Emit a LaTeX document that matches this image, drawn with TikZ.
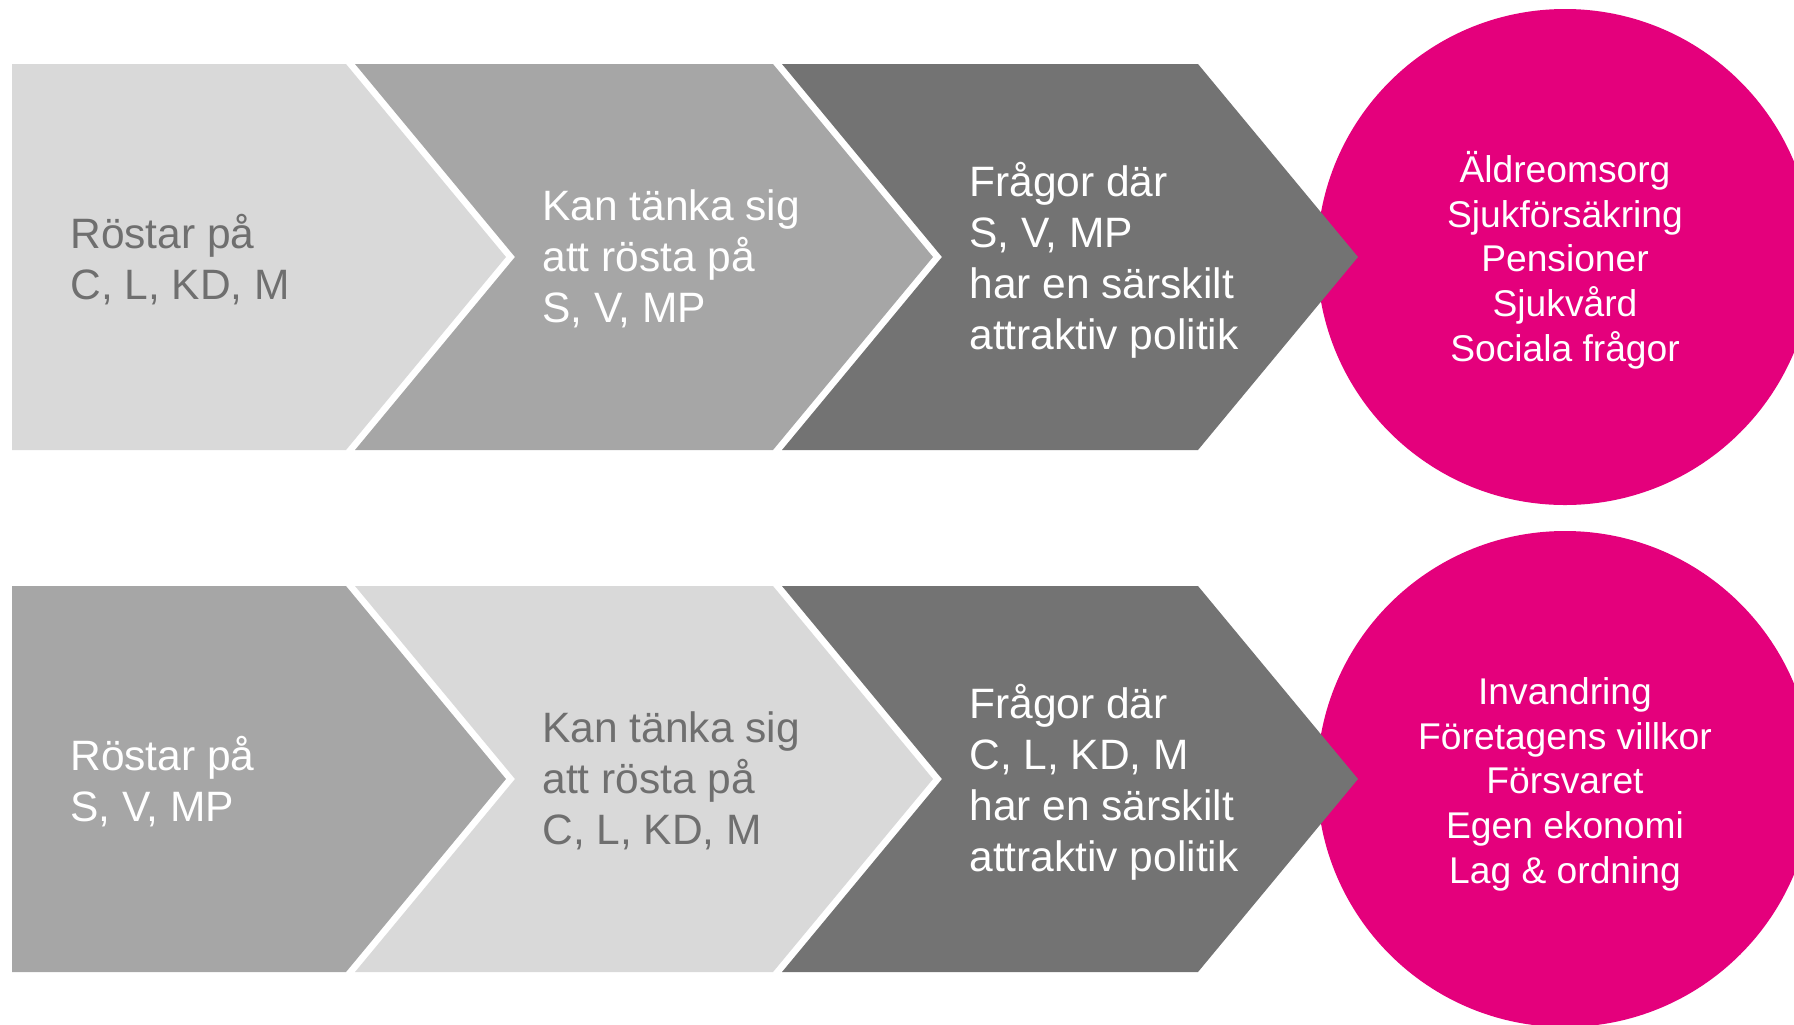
\documentclass[tikz,border=0pt]{standalone}
\usepackage{fontspec}
\setmainfont{Liberation Sans}
\definecolor{lightg}{HTML}{D9D9D9}
\definecolor{midg}{HTML}{A6A6A6}
\definecolor{darkg}{HTML}{737373}
\definecolor{txtg}{HTML}{6F6F6F}
\definecolor{pinkc}{HTML}{E4007C}
\begin{document}
\begin{tikzpicture}[x=0.5pt,y=-0.5pt,
  chevtext/.style={anchor=base west, align=left, inner sep=0pt, font=\fontsize{21.25}{25.35}\selectfont},
  circtext/.style={anchor=base, align=center, inner sep=0pt, text=white, font=\fontsize{18.6}{22.3}\selectfont},
  bubble/.style={circle, fill=pinkc, minimum size=248pt, inner sep=0pt},
]
\useasboundingbox (0,0) rectangle (1794,1024);
\clip (0,0) rectangle (1794,1024);

% ---------- top row ----------
\node[bubble] (c1) at (1565,257) {};
\fill[lightg] (12,64) -- (346,64) -- (506,257) -- (346,450) -- (12,450) -- cycle;
\fill[midg] (355,64) -- (773,64) -- (933,257) -- (773,450) -- (355,450) -- (515,257) -- cycle;
\fill[darkg] (782,64) -- (1198,64) -- (1358,257) -- (1198,450) -- (782,450) -- (942,257) -- cycle;

% base anchor = baseline of the last line
\node[chevtext, text=txtg] (t11) at (70,299) {Röstar på\\C, L, KD, M};
\node[chevtext, text=white] (t12) at (542,322) {Kan tänka sig\\att rösta på\\S, V, MP};
\node[chevtext, text=white] (t13) at (969,349) {Frågor där\\S, V, MP\\har en särskilt\\attraktiv politik};
\node[circtext] (l1) at (1565,361) {Äldreomsorg\\Sjukförsäkring\\Pensioner\\Sjukvård\\Sociala frågor};

% ---------- bottom row ----------
\node[bubble] (c2) at (1565,779) {};
\fill[midg] (12,586) -- (346,586) -- (506,779) -- (346,972) -- (12,972) -- cycle;
\fill[lightg] (355,586) -- (773,586) -- (933,779) -- (773,972) -- (355,972) -- (515,779) -- cycle;
\fill[darkg] (782,586) -- (1198,586) -- (1358,779) -- (1198,972) -- (782,972) -- (942,779) -- cycle;

\node[chevtext, text=white] (t21) at (70,821) {Röstar på\\S, V, MP};
\node[chevtext, text=txtg] (t22) at (542,844) {Kan tänka sig\\att rösta på\\C, L, KD, M};
\node[chevtext, text=white] (t23) at (969,871) {Frågor där\\C, L, KD, M\\har en särskilt\\attraktiv politik};
\node[circtext] (l2) at (1565,883) {Invandring\\Företagens villkor\\Försvaret\\Egen ekonomi\\Lag \& ordning};
\end{tikzpicture}
\end{document}
